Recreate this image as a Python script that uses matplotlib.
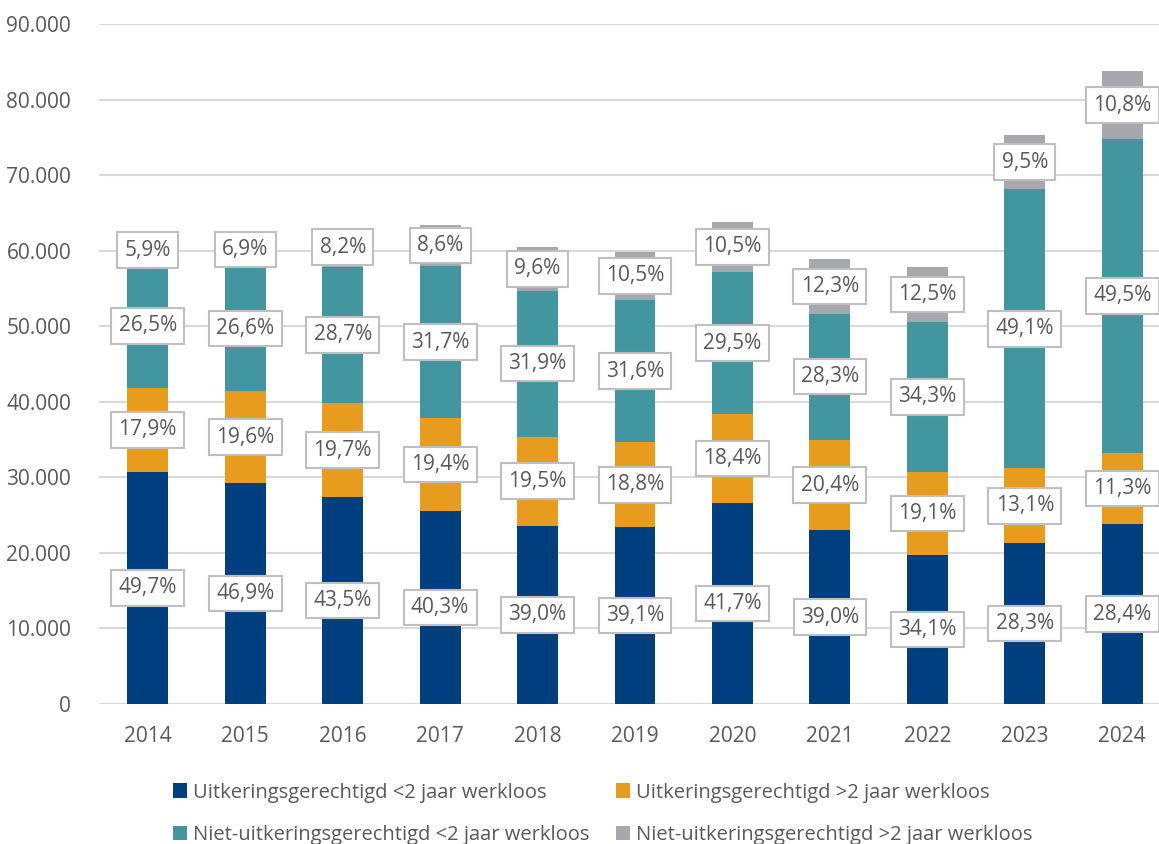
import matplotlib.pyplot as plt
import numpy as np

# jaren en aantallen werklozen per groep
jaren = ["2014", "2015", "2016", "2017", "2018", "2019", "2020", "2021", "2022", "2023", "2024"]
uitk_kort = [30760, 29220, 27400, 25550, 23600, 23380, 26600, 22970, 19710, 21310, 23800]
uitk_lang = [11080, 12210, 12410, 12300, 11800, 11240, 11740, 12020, 11040, 9860, 9470]
niet_kort = [16400, 16570, 18080, 20100, 19300, 18900, 18820, 16670, 19830, 36970, 41480]
niet_lang = [3650, 4300, 5170, 5450, 5810, 6280, 6700, 7240, 7230, 7150, 9050]

pct_uitk_kort = ["49,7%", "46,9%", "43,5%", "40,3%", "39,0%", "39,1%", "41,7%", "39,0%", "34,1%", "28,3%", "28,4%"]
pct_uitk_lang = ["17,9%", "19,6%", "19,7%", "19,4%", "19,5%", "18,8%", "18,4%", "20,4%", "19,1%", "13,1%", "11,3%"]
pct_niet_kort = ["26,5%", "26,6%", "28,7%", "31,7%", "31,9%", "31,6%", "29,5%", "28,3%", "34,3%", "49,1%", "49,5%"]
pct_niet_lang = ["5,9%", "6,9%", "8,2%", "8,6%", "9,6%", "10,5%", "10,5%", "12,3%", "12,5%", "9,5%", "10,8%"]

namen = ["Uitkeringsgerechtigd <2 jaar werkloos", "Uitkeringsgerechtigd >2 jaar werkloos",
         "Niet-uitkeringsgerechtigd <2 jaar werkloos", "Niet-uitkeringsgerechtigd >2 jaar werkloos"]
kleuren = ["#003f7d", "#e89c1f", "#43959f", "#a5a8ad"]

plt.rcParams['font.family'] = ['Open Sans', 'DejaVu Sans']

fig = plt.figure(figsize=(11.59, 8.44), dpi=100)
ax = fig.add_axes([99 / 1159, 140 / 844, 1072 / 1159, 680 / 844])

x = np.arange(len(jaren))
series = [uitk_kort, uitk_lang, niet_kort, niet_lang]
labels = [pct_uitk_kort, pct_uitk_lang, pct_niet_kort, pct_niet_lang]
bottom = np.zeros(len(jaren))
handles = []
for vals, lab, kleur, naam in zip(series, labels, kleuren, namen):
    vals = np.array(vals, dtype=float)
    h = ax.bar(x, vals, 0.42, bottom=bottom, color=kleur, label=naam, zorder=2)
    handles.append(h)
    for xi, b, v, t in zip(x, bottom, vals, lab):
        ax.text(xi, b + v / 2, t, ha="center", va="center", fontsize=15, color="#595959", zorder=4,
                bbox=dict(boxstyle="square,pad=0.35", fc="white", ec="#bfbfbf", lw=1.5))
    bottom += vals

ax.set_xlim(-0.5, len(jaren) - 0.5)
ax.set_ylim(0, 90000)
ax.set_yticks(range(0, 90001, 10000))
ax.set_yticklabels(["0"] + [f"{v // 1000}.000" for v in range(10000, 90001, 10000)])
ax.set_xticks(x)
ax.set_xticklabels(jaren)
ax.tick_params(length=0, labelsize=15, colors="#595959")
ax.tick_params(axis="x", pad=16)
ax.tick_params(axis="y", pad=20)
ax.grid(axis="y", color="#d9d9d9", lw=1.5, zorder=0)
for s in ax.spines.values():
    s.set_visible(False)

# volgorde zodat de legenda rij voor rij loopt
volgorde = [0, 2, 1, 3]
fig.legend([handles[i] for i in volgorde], [namen[i] for i in volgorde],
           loc="center", bbox_to_anchor=(0.52, 0.036), ncol=2, frameon=False, fontsize=14.5,
           handlelength=0.7, handleheight=0.7, handletextpad=0.3, columnspacing=1.3,
           labelspacing=1.1, labelcolor="#595959")

fig.savefig("out.png", dpi=100)
